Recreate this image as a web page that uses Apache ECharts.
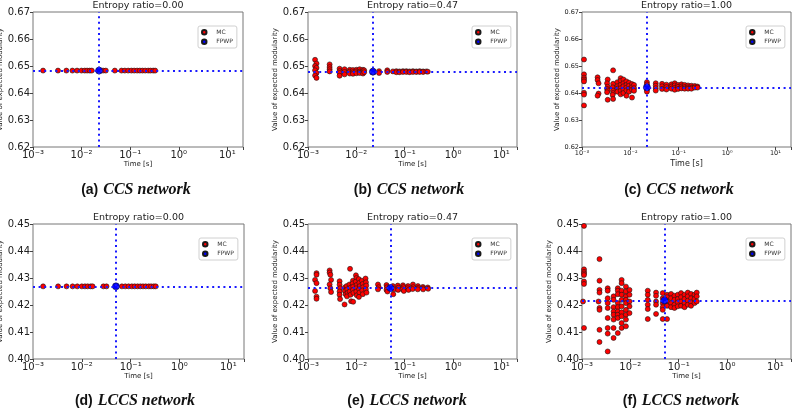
<!DOCTYPE html>
<html>
<head>
<meta charset="utf-8">
<script src="https://cdn.jsdelivr.net/npm/echarts@6/dist/echarts.min.js"></script>
<style>
  html, body { margin: 0; padding: 0; background: #fff; }
  #chart { width: 793px; height: 411px; }
</style>
</head>
<body>
<div id="chart"></div>
<script>
// 各子图标题与说明
const panelTitles = ['Entropy ratio=0.00', 'Entropy ratio=0.47', 'Entropy ratio=1.00',
  'Entropy ratio=0.00', 'Entropy ratio=0.47', 'Entropy ratio=1.00']
const panelTags = ['(a)', '(b)', '(c)', '(d)', '(e)', '(f)']
const networkNames = ['CCS network', 'CCS network', 'CCS network',
  'LCCS network', 'LCCS network', 'LCCS network']
const yRangeCCS = [0.62, 0.67]
const yRangeLCCS = [0.40, 0.45]
const xRange = [0.001, 21]

// MC 结果: [time (s), value of expected modularity]
const mcA = [
  [0.00161, 0.6483], [0.00327, 0.6483], [0.00486, 0.6483], [0.00647, 0.6483], [0.00807, 0.6483],
  [0.00993, 0.6483], [0.0116, 0.6483], [0.0130, 0.6483], [0.0147, 0.6483], [0.0162, 0.6483],
  [0.0277, 0.6483], [0.0315, 0.6483], [0.0483, 0.6483], [0.0663, 0.6483], [0.0776, 0.6483],
  [0.0909, 0.6483], [0.106, 0.6483], [0.121, 0.6483], [0.139, 0.6483], [0.158, 0.6483],
  [0.179, 0.6483], [0.204, 0.6483], [0.235, 0.6483], [0.262, 0.6483], [0.298, 0.6483], [0.327, 0.6483]
]
const mcB = [
  [0.0014, 0.6523], [0.0015, 0.6509], [0.0014, 0.6500], [0.0015, 0.6493], [0.0014, 0.6484],
  [0.0015, 0.6474], [0.0014, 0.6465], [0.0015, 0.6456],
  [0.0028, 0.6506], [0.0028, 0.6496], [0.0028, 0.6488], [0.0028, 0.6480],
  [0.0045, 0.6490], [0.0045, 0.6481], [0.0045, 0.6474], [0.0045, 0.6464],
  [0.0057, 0.6488], [0.0057, 0.6478], [0.0057, 0.6469],
  [0.0073, 0.6486], [0.0073, 0.6479], [0.0073, 0.6472],
  [0.0085, 0.6485], [0.0085, 0.6477], [0.0085, 0.6471],
  [0.0100, 0.6486], [0.0100, 0.6480], [0.0100, 0.6473],
  [0.0117, 0.6488], [0.0117, 0.6479], [0.0117, 0.6474],
  [0.0137, 0.6486], [0.0137, 0.6479], [0.0137, 0.6472],
  [0.0145, 0.6484], [0.0145, 0.6477],
  [0.022, 0.6482], [0.022, 0.6476],
  [0.0295, 0.6481], [0.0295, 0.6474],
  [0.0436, 0.6484], [0.0436, 0.6478],
  [0.057, 0.6480], [0.067, 0.6481], [0.067, 0.6477], [0.078, 0.6480], [0.078, 0.6477],
  [0.092, 0.6481], [0.092, 0.6478], [0.108, 0.6481], [0.108, 0.6478],
  [0.126, 0.6480], [0.126, 0.6477], [0.148, 0.6481], [0.148, 0.6478],
  [0.174, 0.6480], [0.174, 0.6478], [0.204, 0.6481], [0.204, 0.6478],
  [0.240, 0.6480], [0.240, 0.6478], [0.280, 0.6480], [0.300, 0.6479]
]
const mcC = [
  [0.0011, 0.6524], [0.0011, 0.6469], [0.0011, 0.6457], [0.0011, 0.6450], [0.0011, 0.6443],
  [0.0011, 0.6401], [0.0011, 0.6394], [0.0011, 0.6354],
  [0.0021, 0.6458], [0.0021, 0.6448], [0.0022, 0.6436], [0.0022, 0.6398], [0.0021, 0.6390],
  [0.0034, 0.6450], [0.0033, 0.6436], [0.0034, 0.6423], [0.0033, 0.6415], [0.0034, 0.6409],
  [0.0033, 0.6403], [0.0034, 0.6375],
  [0.0044, 0.6484], [0.0044, 0.6434], [0.0043, 0.6421], [0.0044, 0.6409], [0.0044, 0.6400],
  [0.0043, 0.6393], [0.0044, 0.6378],
  [0.0054, 0.6440], [0.0054, 0.6425], [0.0054, 0.6416], [0.0054, 0.6405],
  [0.0063, 0.6455], [0.0063, 0.6445], [0.0063, 0.6430], [0.0063, 0.6418], [0.0063, 0.6408], [0.0063, 0.6395],
  [0.0072, 0.6450], [0.0072, 0.6436], [0.0072, 0.6425], [0.0072, 0.6412], [0.0072, 0.6400],
  [0.0083, 0.6443], [0.0083, 0.6430], [0.0083, 0.6420], [0.0083, 0.6410], [0.0083, 0.6390],
  [0.0094, 0.6438], [0.0094, 0.6427], [0.0094, 0.6415], [0.0094, 0.6405],
  [0.0108, 0.6433], [0.0108, 0.6422], [0.0108, 0.6412], [0.0108, 0.6383],
  [0.0119, 0.6430], [0.0119, 0.6418], [0.0119, 0.6408],
  [0.022, 0.6440], [0.022, 0.6432], [0.022, 0.6412], [0.022, 0.6405],
  [0.0335, 0.6436], [0.0335, 0.6427], [0.0335, 0.6418], [0.0335, 0.6409],
  [0.0452, 0.6434], [0.0452, 0.6425], [0.0452, 0.6415],
  [0.0557, 0.6431], [0.0557, 0.6422], [0.0557, 0.6413],
  [0.0708, 0.6432], [0.0708, 0.6424], [0.0708, 0.6416],
  [0.0828, 0.6436], [0.0828, 0.6428], [0.0828, 0.6419], [0.0828, 0.6412],
  [0.097, 0.6430], [0.097, 0.6423], [0.097, 0.6415],
  [0.114, 0.6432], [0.114, 0.6424], [0.114, 0.6417],
  [0.133, 0.6430], [0.133, 0.6422], [0.133, 0.6416],
  [0.156, 0.6428], [0.156, 0.6421], [0.156, 0.6416],
  [0.183, 0.6427], [0.183, 0.6420], [0.183, 0.6416],
  [0.215, 0.6426], [0.215, 0.6420], [0.244, 0.6424], [0.244, 0.6420]
]
const mcD = [
  [0.00161, 0.4269], [0.00327, 0.4269], [0.00486, 0.4269], [0.00647, 0.4269], [0.00807, 0.4269],
  [0.0100, 0.4269], [0.0116, 0.4269], [0.0132, 0.4269], [0.0152, 0.4269], [0.0166, 0.4269],
  [0.0277, 0.4269], [0.0320, 0.4269], [0.0663, 0.4269], [0.0776, 0.4269],
  [0.0909, 0.4269], [0.106, 0.4269], [0.121, 0.4269], [0.139, 0.4269], [0.158, 0.4269],
  [0.179, 0.4269], [0.204, 0.4269], [0.235, 0.4269], [0.262, 0.4269], [0.298, 0.4269], [0.327, 0.4269]
]
const mcE = [
  [0.0015, 0.4318], [0.0015, 0.4312], [0.0014, 0.4293], [0.0015, 0.4281], [0.0014, 0.4252],
  [0.0015, 0.4231], [0.0015, 0.4223],
  [0.0028, 0.4328], [0.0028, 0.4320], [0.0029, 0.4312], [0.0030, 0.4293], [0.0028, 0.4276],
  [0.0029, 0.4262], [0.0030, 0.4248],
  [0.0045, 0.4288], [0.0045, 0.4275], [0.0046, 0.4262], [0.0045, 0.4250], [0.0045, 0.4238], [0.0046, 0.4222],
  [0.0058, 0.4265], [0.0058, 0.4252], [0.0060, 0.4240], [0.0057, 0.4202],
  [0.0063, 0.4270], [0.0065, 0.4258], [0.0066, 0.4245], [0.0064, 0.4232],
  [0.0074, 0.4334], [0.0072, 0.4276], [0.0075, 0.4264], [0.0073, 0.4250], [0.0076, 0.4238], [0.0078, 0.4214],
  [0.0085, 0.4290], [0.0084, 0.4280], [0.0086, 0.4268], [0.0085, 0.4256], [0.0087, 0.4245], [0.0086, 0.4212],
  [0.0098, 0.4310], [0.0100, 0.4300], [0.0097, 0.4286], [0.0101, 0.4274], [0.0099, 0.4262],
  [0.0100, 0.4250], [0.0102, 0.4236],
  [0.0112, 0.4296], [0.0115, 0.4282], [0.0118, 0.4270], [0.0114, 0.4258], [0.0116, 0.4246], [0.0113, 0.4230],
  [0.0130, 0.4290], [0.0135, 0.4278], [0.0138, 0.4266], [0.0133, 0.4254], [0.0136, 0.4240],
  [0.0155, 0.4298], [0.0158, 0.4284], [0.0160, 0.4272], [0.0157, 0.4258], [0.0162, 0.4246],
  [0.028, 0.4276], [0.029, 0.4266], [0.028, 0.4258],
  [0.042, 0.4274], [0.043, 0.4266], [0.042, 0.4256], [0.044, 0.4250],
  [0.057, 0.4270], [0.058, 0.4240], [0.060, 0.4258],
  [0.072, 0.4272], [0.074, 0.4264], [0.073, 0.4256],
  [0.092, 0.4273], [0.094, 0.4266], [0.090, 0.4258], [0.096, 0.4252],
  [0.117, 0.4270], [0.115, 0.4262], [0.120, 0.4256],
  [0.148, 0.4276], [0.150, 0.4266], [0.146, 0.4259],
  [0.188, 0.4270], [0.190, 0.4263], [0.186, 0.4258],
  [0.238, 0.4267], [0.242, 0.4262], [0.240, 0.4258],
  [0.300, 0.4265], [0.305, 0.4260]
]
const mcF = [
  [0.0011, 0.4493], [0.0011, 0.4332], [0.0011, 0.4323], [0.0011, 0.4317], [0.0011, 0.4311],
  [0.0011, 0.4287], [0.0011, 0.4278], [0.00105, 0.4213], [0.0011, 0.4115],
  [0.0023, 0.4370], [0.0023, 0.4290], [0.0023, 0.4256], [0.0023, 0.4246], [0.0022, 0.4213],
  [0.0023, 0.4189], [0.0023, 0.4182], [0.0023, 0.4108], [0.0023, 0.4063],
  [0.0034, 0.4262], [0.0034, 0.4253], [0.0034, 0.4225], [0.0034, 0.4207], [0.0034, 0.4189],
  [0.0034, 0.4152], [0.0034, 0.4115], [0.0034, 0.4094], [0.0034, 0.4028],
  [0.0045, 0.4232], [0.0045, 0.4219], [0.0045, 0.4192], [0.0045, 0.4176], [0.0045, 0.4164],
  [0.0045, 0.4146], [0.0045, 0.4115], [0.0045, 0.4078],
  [0.0055, 0.4262], [0.0055, 0.4253], [0.0055, 0.4240], [0.0055, 0.4207], [0.0055, 0.4192],
  [0.0055, 0.4176], [0.0055, 0.4164], [0.0055, 0.4152], [0.0055, 0.4096],
  [0.0066, 0.4293], [0.0066, 0.4281], [0.0066, 0.4253], [0.0066, 0.4238], [0.0066, 0.4219],
  [0.0066, 0.4195], [0.0066, 0.4173], [0.0066, 0.4158], [0.0066, 0.4133], [0.0066, 0.4115],
  [0.0081, 0.4268], [0.0081, 0.4250], [0.0081, 0.4232], [0.0081, 0.4219], [0.0081, 0.4207],
  [0.0081, 0.4182], [0.0081, 0.4164], [0.0081, 0.4146], [0.0081, 0.4121],
  [0.0096, 0.4256], [0.0096, 0.4238], [0.0096, 0.4213], [0.0096, 0.4195], [0.0096, 0.4170],
  [0.0229, 0.4253], [0.0229, 0.4238], [0.0229, 0.4219], [0.0229, 0.4201], [0.0229, 0.4185], [0.0229, 0.4148],
  [0.034, 0.4246], [0.034, 0.4234], [0.034, 0.4213], [0.034, 0.4201], [0.034, 0.4167],
  [0.0467, 0.4244], [0.0467, 0.4225], [0.0467, 0.4207], [0.0467, 0.4192], [0.0467, 0.4182], [0.0467, 0.4148],
  [0.0574, 0.4238], [0.0574, 0.4229], [0.0574, 0.4213], [0.0574, 0.4197], [0.0574, 0.4148],
  [0.0695, 0.4241], [0.0695, 0.4225], [0.0695, 0.4207], [0.0695, 0.4192],
  [0.0817, 0.4234], [0.0817, 0.4219], [0.0817, 0.4201], [0.0817, 0.4189],
  [0.0955, 0.4238], [0.0955, 0.4222], [0.0955, 0.4210], [0.0955, 0.4195],
  [0.112, 0.4244], [0.112, 0.4229], [0.112, 0.4213], [0.112, 0.4197],
  [0.132, 0.4238], [0.132, 0.4222], [0.132, 0.4207], [0.132, 0.4192],
  [0.154, 0.4246], [0.154, 0.4232], [0.154, 0.4216], [0.154, 0.4201],
  [0.180, 0.4241], [0.180, 0.4225], [0.180, 0.4210], [0.180, 0.4197],
  [0.212, 0.4238], [0.212, 0.4222], [0.212, 0.4207],
  [0.236, 0.4246], [0.236, 0.4232], [0.236, 0.4213]
]
// FPWP 结果 [time (s), value]
const fpwpA = [0.0229, 0.6483]
const fpwpB = [0.022, 0.6479]
const fpwpC = [0.022, 0.6421]
const fpwpD = [0.050, 0.4269]
const fpwpE = [0.0507, 0.4263]
const fpwpF = [0.0507, 0.4217]

const mcSets = [mcA, mcB, mcC, mcD, mcE, mcF]
const fpwpSets = [fpwpA, fpwpB, fpwpC, fpwpD, fpwpE, fpwpF]

// 布局
const grids = [
  { left: 33, top: 12, width: 210, height: 135 },
  { left: 308, top: 12, width: 209, height: 135 },
  { left: 582, top: 12, width: 209, height: 135 },
  { left: 33, top: 224, width: 211, height: 135 },
  { left: 308, top: 224, width: 209, height: 135 },
  { left: 582, top: 224, width: 209, height: 135 }
]
const tickFont = [10, 10, 6.5, 10, 10, 10]
const yNameGap = [24, 25, 20, 25, 25, 27]
const captionX = [136, 409, 679, 135, 407, 681]

const supMap = { '-': '⁻', '0': '⁰', '1': '¹', '2': '²', '3': '³' }
function logLabel(v) {
  const e = Math.log10(v)
  const r = Math.round(e)
  if (Math.abs(e - r) > 1e-6) return ''
  return '10' + String(r).split('').map(c => supMap[c]).join('')
}

const FONT = 'DejaVu Sans'
const chart = echarts.init(document.getElementById('chart'))

const title = []
const legend = []
const xAxis = []
const yAxis = []
const series = []

grids.forEach((g, i) => {
  const row = i < 3 ? 0 : 1
  const yr = row === 0 ? yRangeCCS : yRangeLCCS
  title.push({
    text: panelTitles[i],
    left: g.left + g.width / 2,
    top: g.top - 11.5,
    textAlign: 'center',
    padding: 0,
    textStyle: { fontFamily: FONT, fontSize: 9.5, fontWeight: 'normal', color: '#222' }
  })
  title.push({
    text: '{t|' + panelTags[i] + '} {n|' + networkNames[i] + '}',
    left: captionX[i],
    top: row === 0 ? 181 : 392,
    textAlign: 'center',
    padding: 0,
    textStyle: {
      rich: {
        t: { fontFamily: 'Liberation Sans', fontWeight: 'bold', fontSize: 14, color: '#111' },
        n: { fontFamily: 'Liberation Serif', fontStyle: 'italic', fontSize: 16, color: '#111' }
      }
    }
  })
  legend.push({
    left: g.left + g.width - 45,
    top: g.top + 14,
    orient: 'vertical',
    data: ['MC', 'FPWP'],
    selectedMode: false,
    itemWidth: 14,
    itemHeight: 4.5,
    itemGap: 3,
    padding: [3, 4, 3, 3],
    borderColor: '#d0d0d0',
    borderWidth: 1,
    borderRadius: 2,
    textStyle: { fontFamily: FONT, fontSize: 6, color: '#333' }
  })
  xAxis.push({
    gridIndex: i,
    type: 'log',
    logBase: 10,
    min: xRange[0],
    max: xRange[1],
    name: 'Time [s]',
    nameLocation: 'middle',
    nameGap: i === 2 ? 13 : 14,
    nameTextStyle: { fontFamily: FONT, fontSize: i === 2 ? 8 : 7, color: '#222' },
    axisLine: { show: false },
    axisTick: { show: true, length: 3, lineStyle: { color: '#444' } },
    axisLabel: {
      fontFamily: FONT, fontSize: tickFont[i], color: '#222', margin: 3,
      formatter: logLabel
    },
    splitLine: { show: false }
  })
  yAxis.push({
    gridIndex: i,
    type: 'value',
    min: yr[0],
    max: yr[1],
    interval: 0.01,
    name: 'Value of expected modularity',
    nameLocation: 'middle',
    nameGap: yNameGap[i],
    nameTextStyle: { fontFamily: FONT, fontSize: 7, color: '#222' },
    axisLine: { show: false },
    axisTick: { show: true, length: 3, lineStyle: { color: '#444' } },
    axisLabel: {
      fontFamily: FONT, fontSize: tickFont[i], color: '#222', margin: 3,
      formatter: v => v.toFixed(2)
    },
    splitLine: { show: false }
  })
  series.push({
    type: 'scatter',
    name: 'MC',
    xAxisIndex: i,
    yAxisIndex: i,
    data: mcSets[i],
    symbolSize: 5,
    itemStyle: { color: '#ff0000', borderColor: '#1a1a1a', borderWidth: 0.6, opacity: 1 },
    emphasis: { disabled: true },
    z: 2
  })
  series.push({
    type: 'scatter',
    name: 'FPWP',
    xAxisIndex: i,
    yAxisIndex: i,
    data: [fpwpSets[i]],
    symbolSize: 7,
    itemStyle: { color: '#0000ff', borderColor: '#1a1a1a', borderWidth: 0.6, opacity: 1 },
    emphasis: { disabled: true },
    z: 3,
    markLine: {
      silent: true,
      precision: 6,
      symbol: ['none', 'none'],
      label: { show: false },
      lineStyle: { color: '#1a1aff', width: 2, type: [2, 3.6], opacity: 1 },
      emphasis: { disabled: true },
      data: [{ xAxis: fpwpSets[i][0] }, { yAxis: fpwpSets[i][1] }]
    }
  })
})

chart.setOption({
  animation: false,
  backgroundColor: '#fff',
  title,
  legend,
  grid: grids.map(g => Object.assign({
    show: true,
    borderColor: '#777',
    borderWidth: 1,
    backgroundColor: 'transparent',
    containLabel: false,
    outerBoundsMode: 'none'
  }, g)),
  xAxis,
  yAxis,
  series
})
</script>
</body>
</html>
